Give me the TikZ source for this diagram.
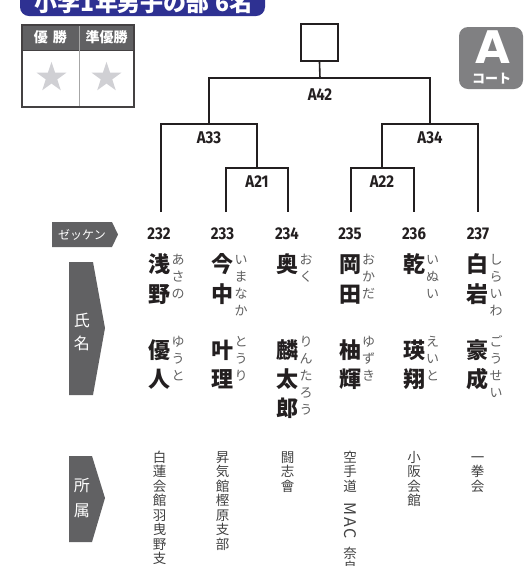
\documentclass[tikz,border=0pt]{standalone}
\usepackage{fontspec}
\setmainfont{Noto Sans CJK JP}
\newfontfamily\jp{Noto Sans CJK JP}
\newfontfamily\numf[FakeStretch=0.88]{Fira Sans}
\newfontfamily\bigA{DejaVu Sans}
\usetikzlibrary{shapes.geometric}
\definecolor{ink}{RGB}{35,31,32}
\definecolor{titleblue}{RGB}{46,49,146}
\definecolor{labgray}{RGB}{97,97,99}
\definecolor{badgegray}{RGB}{128,128,130}
\definecolor{stargray}{RGB}{208,208,212}
\definecolor{kanagray}{RGB}{95,95,95}
\definecolor{affgray}{RGB}{65,65,65}
\tikzset{
  bracket/.style={draw=ink, line width=1.6pt},
  numlab/.style={font=\numf\bfseries\fontsize{17}{17}\selectfont, text=ink, inner sep=0pt},
  kanji/.style={font=\jp\bfseries\fontsize{22}{22}\selectfont, text=ink, inner sep=0pt, text height=19.4pt, text depth=2.6pt},
  kana/.style={font=\jp\fontsize{13}{13}\selectfont, text=kanagray, inner sep=0pt, text height=11.4pt, text depth=1.6pt},
  aff/.style={font=\jp\fontsize{13.5}{13.5}\selectfont, text=affgray, inner sep=0pt, text height=11.9pt, text depth=1.6pt},
  tagfill/.style={fill=labgray, draw=none},
  tagtext/.style={font=\jp\fontsize{16}{16}\selectfont, text=white, inner sep=0pt, text height=14.1pt, text depth=1.9pt},
  hdrtext/.style={font=\jp\bfseries\fontsize{14}{14}\selectfont, text=white, inner sep=0pt},
  starmark/.style={star, star points=5, star point ratio=2.6, fill=stargray, draw=none, minimum size=31.5pt, inner sep=0pt},
}
\newcommand\vstack[6]{%
  \foreach \chr [count=\i from 0] in {#6} {\node[#5] (#1-\i) at (#2, {#3+\i*#4}) {\chr};}}
\begin{document}
\begin{tikzpicture}[x=1pt,y=-1pt]
\useasboundingbox (0,0) rectangle (528,566);
\clip (0,0) rectangle (528,566);

% title
\fill[titleblue, rounded corners=9pt] (20,-20) rectangle (265,16);
\node[font=\jp\bfseries\fontsize{23}{23}\selectfont, text=white, inner sep=0pt, anchor=base] (title) at (144,11) {小学1年男子の部\hspace{6pt}6名};

% winners table
\fill[labgray] (22,25) rectangle (134,50);
\draw[ink!85, line width=0.8pt] (22,50) -- (134,50);
\draw[gray!70, line width=0.8pt] (79,25) -- (79,107);
\draw[ink!85, line width=1.4pt] (22,25) rectangle (134,107);
\node[hdrtext] (h1) at (50.5,37.5) {優\hspace{5pt}勝};
\node[hdrtext] (h2) at (106.5,37.5) {準優勝};
\node[starmark] (s1) at (51.5,77.5) {};
\node[starmark] (s2) at (106.5,77.5) {};

% court badge
\fill[badgegray, rounded corners=9pt] (459,27) rectangle (523,89);
\node[font=\bigA\bfseries\fontsize{45}{45}\selectfont, text=white, inner sep=0pt] (courtA) at (492.5,47.5) {A};
\node[font=\jp\bfseries\fontsize{13}{13}\selectfont, text=white, inner sep=0pt] (courtB) at (491.5,78.5) {コート};

% bracket
\node[draw=ink, line width=1.6pt, minimum size=37.5pt, inner sep=0pt] (champ) at (319.5,42.5) {};
\coordinate (top42) at (320,78);
\coordinate (j33) at (209,124);
\coordinate (j34) at (430,124);
\coordinate (j21) at (257,168);
\coordinate (j22) at (382,168);
\coordinate (l232) at (161,212);
\coordinate (l233) at (226,212);
\coordinate (l234) at (288,212);
\coordinate (l235) at (351,212);
\coordinate (l236) at (414,212);
\coordinate (l237) at (478,212);
\draw[bracket] (champ.south) -- (top42);
\draw[bracket] (j33) |- (top42) -| (j34);
\draw[bracket] (l232) |- (j33) -| (j21);
\draw[bracket] (l233) |- (j21) -| (l234);
\draw[bracket] (j22) |- (j34) -| (l237);
\draw[bracket] (l235) |- (j22) -| (l236);
\node[numlab] (A42) at (320,95) {A42};
\node[numlab] (A33) at (209,138) {A33};
\node[numlab] (A34) at (430,138) {A34};
\node[numlab] (A21) at (257,182) {A21};
\node[numlab] (A22) at (382,182) {A22};

% zekken row
\fill[tagfill] (52,222) -- (112,222) -- (118,234.5) -- (112,247) -- (52,247) -- cycle;
\node[font=\jp\fontsize{12}{12}\selectfont, text=white, inner sep=0pt] (zk) at (82,234.5) {ゼッケン};
\node[numlab] (n232) at (159,234) {232};
\node[numlab] (n233) at (222.5,234) {233};
\node[numlab] (n234) at (287,234) {234};
\node[numlab] (n235) at (350,234) {235};
\node[numlab] (n236) at (414,234) {236};
\node[numlab] (n237) at (478,234) {237};

% name tag
\fill[tagfill] (69,262) -- (93,262) -- (105,328) -- (93,395) -- (69,395) -- cycle;
\node[tagtext] (nm1) at (82,320) {氏};
\node[tagtext] (nm2) at (82,343) {名};

% surnames
\vstack{sa}{159.5}{264}{30}{kanji}{浅,野}
\vstack{sb}{222.5}{264}{30}{kanji}{今,中}
\vstack{sc}{287.5}{264}{30}{kanji}{奥}
\vstack{sd}{350}{264}{30}{kanji}{岡,田}
\vstack{se}{414}{264}{30}{kanji}{乾}
\vstack{sf}{477.5}{264}{30}{kanji}{白,岩}
\vstack{ka}{178}{260}{16.8}{kana}{あ,さ,の}
\vstack{kb}{241}{260}{16.8}{kana}{い,ま,な,か}
\vstack{kc}{306}{260}{16.8}{kana}{お,く}
\vstack{kd}{368.5}{260}{16.8}{kana}{お,か,だ}
\vstack{ke}{432.5}{260}{16.8}{kana}{い,ぬ,い}
\vstack{kf}{496}{260}{16.8}{kana}{し,ら,い,わ}

% given names
\vstack{ga}{159.5}{350}{29}{kanji}{優,人}
\vstack{gb}{222.5}{350}{29}{kanji}{叶,理}
\vstack{gc}{287.5}{350}{29}{kanji}{麟,太,郎}
\vstack{gd}{350}{350}{29}{kanji}{柚,輝}
\vstack{ge}{414}{350}{29}{kanji}{瑛,翔}
\vstack{gf}{477.5}{350}{29}{kanji}{豪,成}
\vstack{ra}{178}{342}{17}{kana}{ゆ,う,と}
\vstack{rb}{241}{342}{17}{kana}{と,う,り}
\vstack{rc}{306}{342}{17}{kana}{り,ん,た,ろ,う}
\vstack{rd}{368.5}{342}{17}{kana}{ゆ,ず,き}
\vstack{re}{432.5}{342}{17}{kana}{え,い,と}
\vstack{rf}{496}{342}{17}{kana}{ご,う,せ,い}

% affiliation tag
\fill[tagfill] (69,456) -- (92,456) -- (105,498) -- (92,542) -- (69,542) -- cycle;
\node[tagtext] (af1) at (82,485) {所};
\node[tagtext] (af2) at (82,510) {属};

% affiliations
\vstack{fa}{159.5}{457}{14.5}{aff}{白,蓮,会,館,羽,曳,野,支}
\vstack{fb}{222.5}{457}{14.5}{aff}{昇,気,館,樫,原,支,部}
\vstack{fc}{287.5}{457}{14.5}{aff}{闘,志,會}
\vstack{fd}{350}{457}{14.5}{aff}{空,手,道}
\node[font=\jp\fontsize{16}{16}\selectfont, text=affgray, inner sep=0pt, rotate=-90] (fdm) at (350,520.5) {M\hspace{1.5pt}A\hspace{1.5pt}C};
\vstack{fe}{350}{553}{14.5}{aff}{奈,良}
\vstack{ff}{414}{457}{14.5}{aff}{小,阪,会,館}
\vstack{fg}{477.5}{457}{14.5}{aff}{一,拳,会}
\end{tikzpicture}
\end{document}
